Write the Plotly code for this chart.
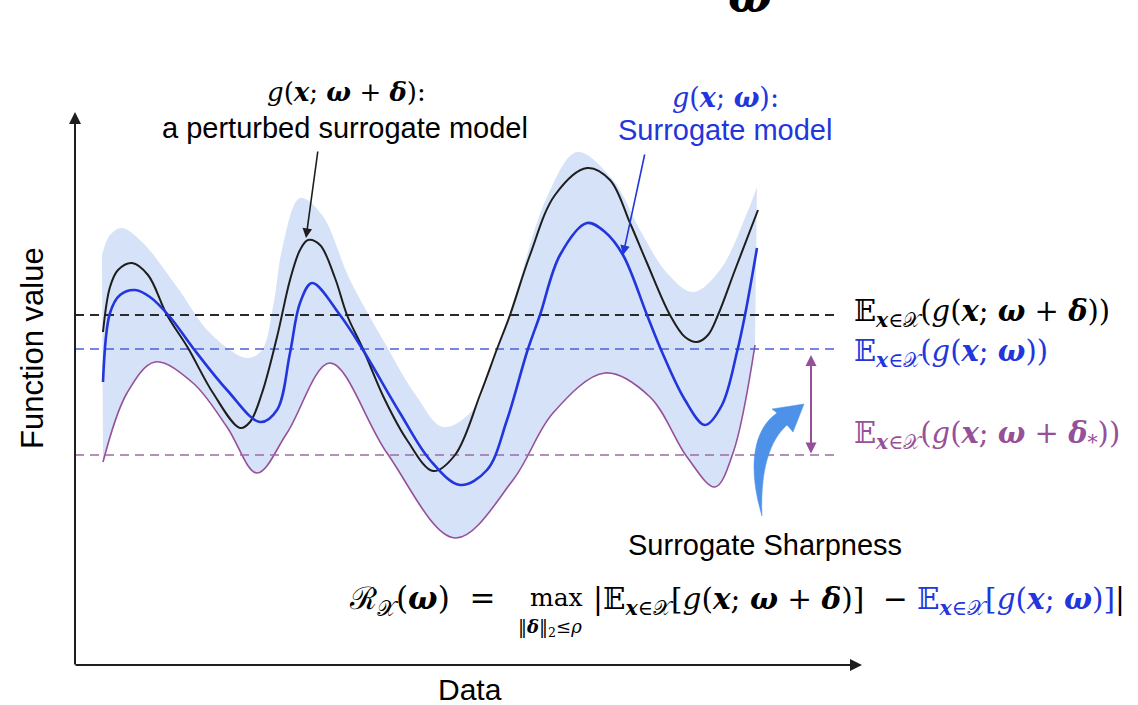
import plotly.graph_objects as go

# ---------------- data (x = data position, y = function value) ----------------
x_black = [103, 110, 118, 132, 148, 167, 188, 213, 240, 250, 262, 277, 290, 300, 308, 320, 335, 347, 363, 385,
           407, 433, 455, 480, 497, 510, 530, 555, 587, 610, 630, 647, 670, 685, 697, 708, 718, 735, 758]
y_black = [333, 378, 395, 402, 390, 350, 317, 272, 237, 243, 272, 328, 385, 415, 425, 420, 387, 350, 316, 265,
           225, 194, 210, 270, 316, 350, 410, 470, 497, 485, 442, 402, 350, 328, 323, 330, 350, 395, 455]

x_blue = [103, 110, 120, 135, 150, 170, 193, 227, 260, 277, 290, 300, 312, 340, 363, 400, 430, 460, 487,
          507, 527, 540, 560, 587, 605, 623, 647, 662, 685, 705, 722, 737, 745, 757]
y_blue = [283, 352, 370, 375, 368, 348, 317, 275, 243, 255, 312, 362, 382, 350, 315, 252, 205, 180, 195,
          245, 313, 350, 410, 442, 433, 410, 350, 313, 265, 240, 260, 313, 350, 417]

x_purple = [103, 127, 155, 193, 227, 257, 287, 330, 387, 455, 513, 553, 605, 650, 687, 715, 733, 755]
y_purple = [203, 272, 303, 282, 238, 192, 232, 302, 212, 127, 185, 252, 292, 268, 208, 178, 212, 320]

x_upper = [102, 110, 122, 143, 177, 210, 247, 262, 273, 283, 300, 322, 350, 383, 417, 443, 473, 493, 507, 517,
           547, 577, 613, 640, 667, 693, 720, 747, 757]
y_upper = [410, 430, 437, 422, 378, 332, 307, 315, 358, 420, 467, 450, 385, 325, 268, 238, 255, 302, 342, 375,
           468, 513, 485, 435, 392, 373, 395, 452, 478]

mean_perturbed = 350   # E(g(x; w + d))
mean_surrogate = 316   # E(g(x; w))
mean_worst = 210       # E(g(x; w + d*))
mean_x = [75, 835]

# ---------------- styles ----------------
BLACK = "#1e1e1e"
BLUE = "#2236dc"
PURPLE = "#96509a"
BAND = "#d6e2f8"
MATH = "DejaVu Serif, Liberation Serif, serif"
SANS = "Liberation Sans, Arial, sans-serif"
Y0 = 665  # helper: convert page-from-top to axis units for layout items


def Y(py):
    return Y0 - py


fig = go.Figure()
spl = dict(shape="spline", smoothing=1.0)

# band
fig.add_trace(go.Scatter(x=x_purple, y=y_purple, mode="lines", line=dict(color="rgba(0,0,0,0)", width=0, **spl),
                         hoverinfo="skip"))
fig.add_trace(go.Scatter(x=x_upper, y=y_upper, mode="lines", fill="tonexty", fillcolor=BAND,
                         line=dict(color="rgba(0,0,0,0)", width=0, **spl), hoverinfo="skip"))
# purple boundary
fig.add_trace(go.Scatter(x=x_purple, y=y_purple, mode="lines", line=dict(color=PURPLE, width=1.6, **spl)))

# dashed mean lines
fig.add_trace(go.Scatter(x=mean_x, y=[mean_perturbed] * 2, mode="lines",
                         line=dict(color="#2a2a2a", width=2, dash="9px,6px")))
fig.add_trace(go.Scatter(x=mean_x, y=[mean_surrogate] * 2, mode="lines",
                         line=dict(color="#4b5fd8", width=1.6, dash="9px,6px")))
fig.add_trace(go.Scatter(x=mean_x, y=[mean_worst] * 2, mode="lines",
                         line=dict(color="#a06aa2", width=1.6, dash="9px,6px")))

# curves
fig.add_trace(go.Scatter(x=x_black, y=y_black, mode="lines", line=dict(color=BLACK, width=2, **spl)))
fig.add_trace(go.Scatter(x=x_blue, y=y_blue, mode="lines", line=dict(color=BLUE, width=2.6, **spl)))

ann = []


def arrow(x0, y0, x1, y1, color, width=2, head=2, size=1.0, side="end"):
    ann.append(dict(x=x1, y=Y(y1), ax=x0, ay=Y(y0), xref="x", yref="y", axref="x", ayref="y",
                    showarrow=True, arrowhead=head, arrowsize=size, arrowwidth=width, arrowcolor=color,
                    arrowside=side, text=""))


def text(x, y, s, size, color="black", family=SANS, xanchor="center", angle=0):
    ann.append(dict(x=x, y=Y(y), xref="x", yref="y", text=s, showarrow=False, xanchor=xanchor,
                    yanchor="middle", textangle=angle, font=dict(size=size, color=color, family=family)))


# axes
arrow(75, 666, 75, 112, BLACK, width=2, head=2, size=1.2)
arrow(74, 665, 862, 665, BLACK, width=2, head=2, size=1.2)
# pointer arrows
arrow(318, 150, 306, 238, BLACK, width=1.6, head=2, size=1.2)
arrow(645, 153, 623, 255, BLUE, width=1.6, head=2, size=1.2)
# purple double arrow
arrow(811, 455, 811, 355, PURPLE, width=2, head=2, size=1.1, side="end+start")

b = lambda s: "<b><i>%s</i></b>" % s
E = "𝔼<sub>%s∈𝒳</sub>" % b("x")
NB = "\u00a0"

text(346, 92, "<i>g</i>(%s; %s + %s):" % (b("x"), b("ω"), b("δ")), 26, family=MATH)
text(345, 128, "a perturbed surrogate model", 29)
text(725, 97, "<i>g</i>(%s; %s):" % (b("x"), b("ω")), 27, color=BLUE, family=MATH)
text(725, 130, "Surrogate model", 29, color=BLUE)

text(852, 313, "%s(<i>g</i>(%s; %s + %s))" % (E, b("x"), b("ω"), b("δ")), 29, family=MATH, xanchor="left")
text(852, 353, "%s(<i>g</i>(%s; %s))" % (E, b("x"), b("ω")), 29, color=BLUE, family=MATH, xanchor="left")
text(852, 435, "%s(<i>g</i>(%s; %s + %s<sub>*</sub>))" % (E, b("x"), b("ω"), b("δ")), 29, color=PURPLE,
     family=MATH, xanchor="left")

text(765, 545, "Surrogate Sharpness", 29)
text(497, 600, "ℛ<sub>𝒳</sub>(%s)%s%s=" % (b("ω"), NB, NB), 31, family=MATH, xanchor="right")
text(556, 597, "max", 25, family=MATH)
text(550, 628, "‖%s‖<sub>2</sub>≤<i>ρ</i>" % b("δ"), 18, family=MATH)
text(591, 600, "|%s[<i>g</i>(%s; %s + %s)]  − <span style='color:%s'>%s[<i>g</i>(%s; %s)]</span>|"
     % (E, b("x"), b("ω"), b("δ"), BLUE, E, b("x"), b("ω")), 29.5, family=MATH, xanchor="left")

text(470, 689, "Data", 30)
text(32, 348, "Function value", 31, angle=-90)
ann.append(dict(x=750, y=1.0, xref="x", yref="paper", text="<b><i>ω</i></b>", showarrow=False,
                yanchor="middle", yshift=4, font=dict(size=46, color="black", family=MATH)))

# curved blue arrow (decorative)
P = lambda px, py: "%g,%g" % (px, Y(py))
path = ("M " + P(762, 516) + " C " + P(748, 470) + " " + P(752, 430) + " " + P(777, 413) +
        " L " + P(772, 409) + " L " + P(804, 404) + " L " + P(793, 432) + " L " + P(787, 425) +
        " C " + P(770, 440) + " " + P(760, 470) + " " + P(762, 516) + " Z")
shapes = [dict(type="path", path=path, xref="x", yref="y", fillcolor="#4d92e8",
               line=dict(color="#4d92e8", width=0.5), layer="above")]

fig.update_layout(
    width=1138, height=705, margin=dict(l=0, r=0, t=0, b=0),
    paper_bgcolor="white", plot_bgcolor="white", showlegend=False,
    xaxis=dict(range=[0, 1138], visible=False, fixedrange=True),
    yaxis=dict(range=[Y(705), Y(0)], visible=False, fixedrange=True),
    annotations=ann, shapes=shapes,
)

fig.write_html("out.html", config={"displayModeBar": False},
               post_script="document.body.style.margin='0';document.body.style.overflow='hidden';")
